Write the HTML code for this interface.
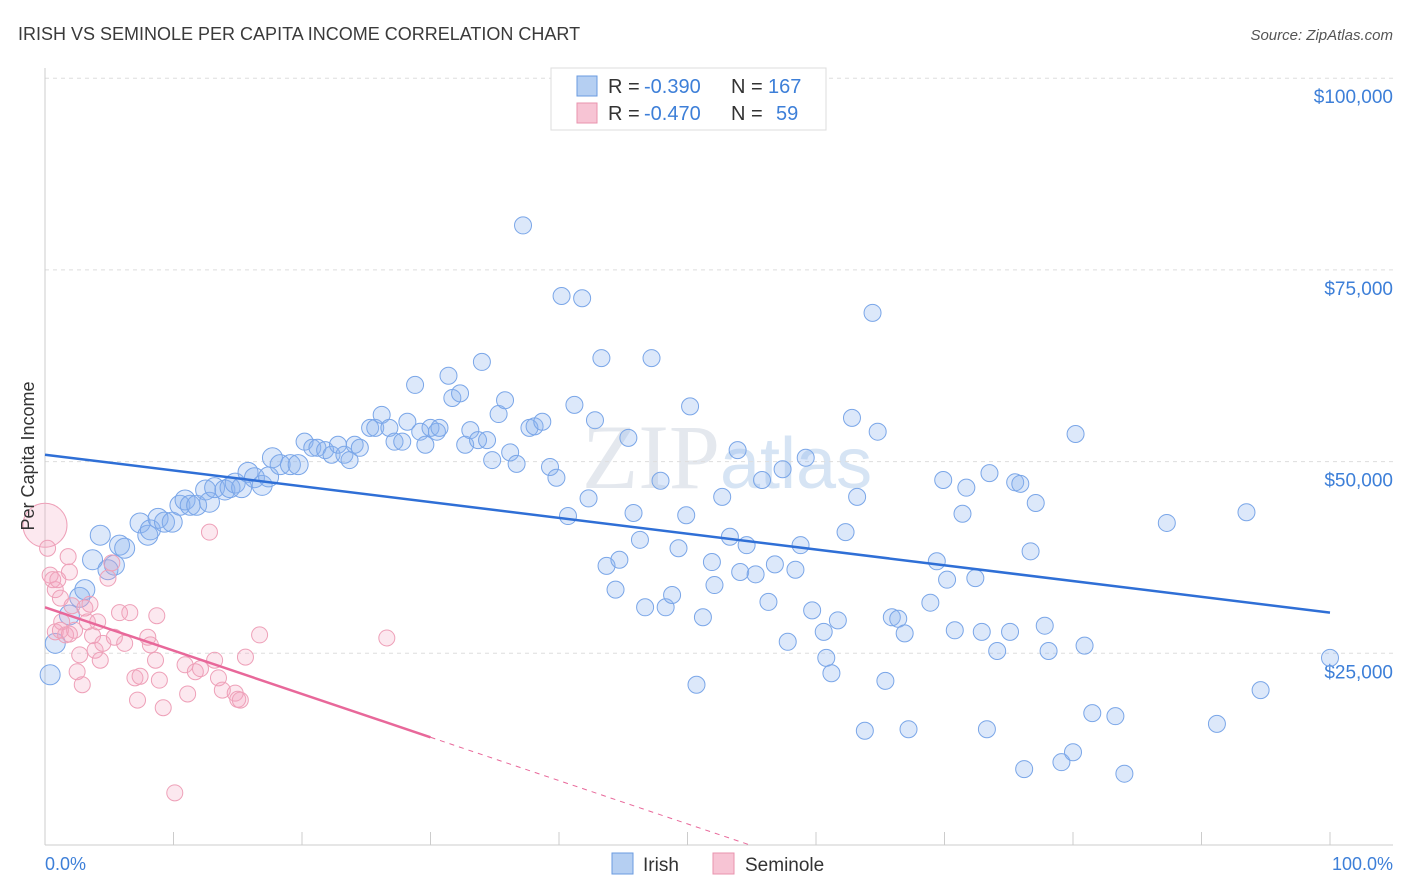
<!DOCTYPE html>
<html><head><meta charset="utf-8">
<style>
body{margin:0;background:#fff;font-family:"Liberation Sans",sans-serif;}
#wrap{position:relative;width:1406px;height:892px;overflow:hidden;}
</style></head>
<body><div id="wrap">
<svg id="chart" width="1406" height="892">
<text x="18" y="40" font-size="18" fill="#3a3a3a">IRISH VS SEMINOLE PER CAPITA INCOME CORRELATION CHART</text>
<text x="1393" y="40" font-size="15" fill="#555" font-style="italic" text-anchor="end">Source: ZipAtlas.com</text>
<text x="720" y="488" font-size="92" fill="#e4e8ee" text-anchor="end" font-family="Liberation Serif,serif">ZIP</text>
<text x="720" y="488" font-size="72" fill="#d6e4f4">atlas</text>
<g id="grid"></g><g id="axes"></g><g id="marks"></g><g id="trend"></g>
<text transform="translate(34,456) rotate(-90)" font-size="18" fill="#333" text-anchor="middle">Per Capita Income</text>
<text x="45" y="870" font-size="18" fill="#3d7fd8">0.0%</text>
<text x="1393" y="870" font-size="18" fill="#3d7fd8" text-anchor="end">100.0%</text>
<g>
<rect x="551" y="68" width="275" height="62" fill="#fff" stroke="#ddd"/>
<rect x="577" y="76" width="20" height="20" fill="#b5cff2" stroke="#6a9be0"/>
<rect x="577" y="103" width="20" height="20" fill="#f7c4d4" stroke="#e893ae"/>
<text x="608" y="93" font-size="20" fill="#333">R =</text>
<text x="644" y="93" font-size="20" fill="#3d7fd8">-0.390</text>
<text x="731" y="93" font-size="20" fill="#333">N =</text>
<text x="768" y="93" font-size="20" fill="#3d7fd8">167</text>
<text x="608" y="120" font-size="20" fill="#333">R =</text>
<text x="644" y="120" font-size="20" fill="#3d7fd8">-0.470</text>
<text x="731" y="120" font-size="20" fill="#333">N =</text>
<text x="776" y="120" font-size="20" fill="#3d7fd8">59</text>
</g>
<g>
<rect x="612" y="853" width="21" height="21" fill="#b5cff2" stroke="#6a9be0"/>
<text x="643" y="871" font-size="19" fill="#333">Irish</text>
<rect x="713" y="853" width="21" height="21" fill="#f7c4d4" stroke="#e893ae"/>
<text x="745" y="871" font-size="19" fill="#333">Seminole</text>
</g>
</svg></div>
<script>
const yTicks=[25000,50000,75000,100000];
const yTickLabels=["$25,000","$50,000","$75,000","$100,000"];
const irishX=[0.4,0.8,1.9,2.7,3.1,3.7,4.3,4.9,5.4,5.8,6.2,7.4,8.0,8.2,8.8,9.3,9.9,10.5,10.9,11.3,11.8,12.5,12.8,13.2,14.0,14.4,14.8,15.3,15.8,16.3,16.9,17.4,17.7,18.3,19.1,19.7,20.2,20.8,21.2,21.8,22.3,22.8,23.3,23.7,24.1,24.5,25.3,25.7,26.2,26.8,27.2,27.8,28.2,28.8,29.2,29.6,30.0,30.5,30.7,31.4,31.7,32.3,32.7,33.1,33.7,34.0,34.4,34.8,35.3,35.8,36.2,36.7,37.2,37.7,38.1,38.7,39.3,39.8,40.2,40.7,41.2,41.8,42.3,42.8,43.3,43.7,44.4,44.7,45.4,45.8,46.3,46.7,47.2,47.9,48.3,48.8,49.3,49.9,50.2,50.7,51.2,51.9,52.1,52.7,53.3,53.9,54.1,54.6,55.3,55.8,56.3,56.8,57.4,57.8,58.4,58.8,59.2,59.7,60.6,60.8,61.2,61.7,62.3,62.8,63.2,63.8,64.4,64.8,65.4,65.9,66.4,66.9,67.2,68.9,69.4,69.9,70.2,70.8,71.4,71.7,72.4,72.9,73.3,73.5,74.1,75.1,75.5,75.9,76.2,76.7,77.1,77.8,78.1,79.1,80.0,80.2,80.9,81.5,83.3,84.0,87.3,91.2,93.5,94.6,100.0];
const irishY=[22.2,26.3,30.0,32.3,33.3,37.2,40.4,35.9,36.5,39.1,38.7,42.0,40.4,41.1,42.6,42.1,42.1,44.3,45.0,44.3,44.3,46.3,44.7,46.6,46.3,46.6,47.2,46.6,48.6,47.9,46.9,48.0,50.5,49.6,49.6,49.6,52.6,51.8,51.8,51.5,50.9,52.2,50.9,50.2,52.2,51.8,54.4,54.4,56.1,54.4,52.6,52.6,55.2,60.0,53.9,52.2,54.4,53.9,54.4,61.2,58.3,58.9,52.2,54.1,52.8,63.0,52.8,50.2,56.2,58.0,51.2,49.7,80.8,54.4,54.6,55.2,49.3,47.9,71.6,42.9,57.4,71.3,45.2,55.4,63.5,36.4,33.3,37.2,53.1,43.3,39.8,31.0,63.5,47.5,31.0,32.6,38.7,43.0,57.2,20.9,29.7,36.9,33.9,45.4,40.2,51.5,35.6,39.1,35.3,47.6,31.7,36.6,49.0,26.5,35.9,39.1,50.5,30.6,27.8,24.4,22.4,29.3,40.8,55.7,45.4,14.9,69.4,53.9,21.4,29.7,29.5,27.6,15.1,31.6,37.0,47.6,34.6,28.0,43.2,46.6,34.8,27.8,15.1,48.5,25.3,27.8,47.3,47.1,9.9,38.3,44.6,28.6,25.3,10.8,12.1,53.6,26.0,17.2,16.8,9.3,42.0,15.8,43.4,20.2,24.4];
const semX=[0,0.2,0.4,0.6,0.8,0.8,1.0,1.2,1.3,1.6,1.8,1.9,2.1,2.3,2.5,2.7,2.9,3.1,3.3,3.5,3.7,3.9,4.1,4.3,4.5,4.9,5.2,5.4,5.8,6.2,6.6,7.0,7.2,7.4,8.0,8.2,8.6,8.7,8.9,9.2,10.9,11.1,11.7,12.1,12.8,13.2,13.5,13.8,14.8,15.0,15.2,15.6,16.7,26.6,10.1,1.2,1.9];
const semY=[41.7,38.7,35.2,34.6,33.3,27.8,34.6,32.2,29.1,27.4,37.6,35.6,31.2,28.0,22.6,24.8,20.9,30.9,29.1,31.4,27.3,25.4,29.1,24.1,26.3,34.8,36.8,27.1,30.3,26.3,30.3,21.8,18.9,22.0,27.1,26.1,24.1,29.9,21.5,17.9,23.5,19.7,22.6,23.0,40.8,24.1,21.8,20.2,19.8,19.0,18.9,24.5,27.4,27.0,6.8,28.0,27.5];
const trendIrish=[50.9,30.3];
const trendSem=[31.0,-0.565];
const NS="http://www.w3.org/2000/svg";
function xs(p){return 45+p*12.85;}
function ys(k){return 845-k*191.7/25;}
function mk(t,a,parent){const e=document.createElementNS(NS,t);for(const k in a)e.setAttribute(k,a[k]);document.getElementById(parent).appendChild(e);return e;}
yTicks.forEach((v,i)=>{
 const l=mk('line',{x1:45,x2:1393,y1:ys(v/1000),y2:ys(v/1000),stroke:'#ddd','stroke-dasharray':'4,4'},'grid');
 
 
 const t=mk('text',{x:1393,y:ys(v/1000)+25,'font-size':19,fill:'#3d7fd8','text-anchor':'end'},'grid');
 t.textContent=yTickLabels[i];
 
 
});
const yAxis=mk('line',{x1:45,x2:45,y1:68,y2:845,stroke:'#ccc'},'axes');


const xAxis=mk('line',{x1:45,x2:1393,y1:845,y2:845,stroke:'#ccc'},'axes');


for(let i=0;i<=10;i++){const t=mk('line',{x1:xs(i*10),x2:xs(i*10),y1:832,y2:845,stroke:'#ccc'},'axes');}
irishX.forEach((x,i)=>{
 const c=mk('circle',{cx:xs(x),cy:ys(irishY[i]),r:x<20?10:8.5,fill:'rgba(140,180,240,0.3)',stroke:'#7aa6e8','stroke-width':1},'marks');
 
 
});
semX.forEach((x,i)=>{
 const c=mk('circle',{cx:xs(x),cy:ys(semY[i]),r:i==0?22:8,fill:'rgba(245,165,190,0.25)',stroke:'#eea0b8','stroke-width':1},'marks');
 
 
});
const tb=mk('line',{x1:xs(0),y1:ys(trendIrish[0]),x2:xs(100),y2:ys(trendIrish[1]),stroke:'#2f6fd6','stroke-width':2.5},'trend');


const sEnd=30, sZero=-trendSem[0]/trendSem[1];
const ts=mk('line',{x1:xs(0),y1:ys(trendSem[0]),x2:xs(sEnd),y2:ys(trendSem[0]+trendSem[1]*sEnd),stroke:'#e8689a','stroke-width':2.5},'trend');


const td=mk('line',{x1:xs(sEnd),y1:ys(trendSem[0]+trendSem[1]*sEnd),x2:xs(sZero),y2:ys(0),stroke:'#e8689a','stroke-width':1,'stroke-dasharray':'5,5'},'trend');


</script>
</body></html>
